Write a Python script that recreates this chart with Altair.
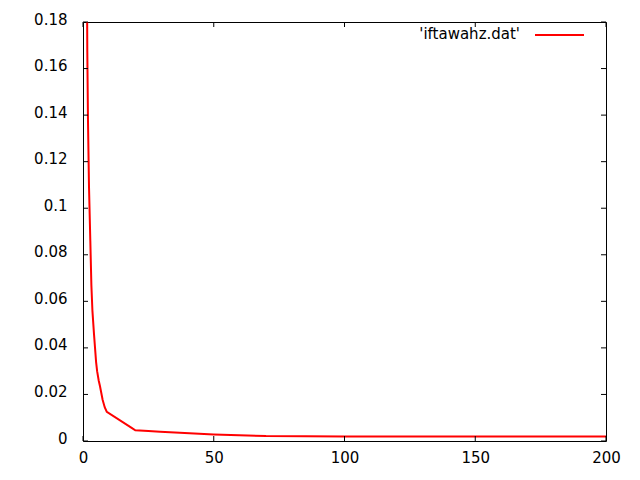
import altair as alt
import pandas as pd

# curve
x_vals = [1.5, 1.65, 1.9, 2.3, 2.8, 3.2, 3.6, 4.2, 4.6, 5.0, 5.4, 6.0, 6.5, 7.5,
          8.3, 9.1, 18.6, 20, 25, 29.5, 37, 50, 70, 100, 150, 200]
y_vals = [0.20, 0.167, 0.138, 0.109, 0.086, 0.067, 0.056, 0.046, 0.040, 0.034,
          0.030, 0.026, 0.0235, 0.0177, 0.0145, 0.0125, 0.0056, 0.0046, 0.0043,
          0.0040, 0.0035, 0.0028, 0.0021, 0.0019, 0.0019, 0.0019]

x_ticks = [0, 50, 100, 150, 200]
y_ticks = [0, 0.02, 0.04, 0.06, 0.08, 0.1, 0.12, 0.14, 0.16, 0.18]
legend_label = "'iftawahz.dat'"

W, H = 523, 419
TICK = 5

df = pd.DataFrame({"x": x_vals, "y": y_vals})
xs = alt.Scale(domain=[0, 200], nice=False, zero=False)
ys = alt.Scale(domain=[0, 0.18], nice=False)

line = alt.Chart(df).mark_line(color="#ff0000", strokeWidth=2, clip=True).encode(
    x=alt.X("x:Q", scale=xs,
            axis=alt.Axis(values=x_ticks, title=None, labelPadding=9, format="d",
                          labelFlush=False, labelOverlap=False)),
    y=alt.Y("y:Q", scale=ys,
            axis=alt.Axis(values=y_ticks, title=None, labelPadding=16,
                          labelBaseline="middle", labelOffset=-3,
                          labelFlush=False, labelOverlap=False,
                          labelExpr="datum.value == 0 ? '0' : format(datum.value, '~g')")),
)

ydf = pd.DataFrame({"v": y_ticks})
xdf = pd.DataFrame({"v": x_ticks})

ytick_l = alt.Chart(ydf).mark_rule(color="black", strokeWidth=1).encode(
    y=alt.Y("v:Q", scale=ys), x=alt.value(0), x2=alt.value(TICK))
ytick_r = alt.Chart(ydf).mark_rule(color="black", strokeWidth=1).encode(
    y=alt.Y("v:Q", scale=ys), x=alt.value(W - TICK), x2=alt.value(W))
xtick_b = alt.Chart(xdf).mark_rule(color="black", strokeWidth=1).encode(
    x=alt.X("v:Q", scale=xs), y=alt.value(H - TICK), y2=alt.value(H))
xtick_t = alt.Chart(xdf).mark_rule(color="black", strokeWidth=1).encode(
    x=alt.X("v:Q", scale=xs), y=alt.value(0), y2=alt.value(TICK))

leg_df = pd.DataFrame({"label": [legend_label]})
leg_text = alt.Chart(leg_df).mark_text(
    align="right", baseline="middle", font="DejaVu Sans", fontSize=15, color="black"
).encode(text="label:N", x=alt.value(437), y=alt.value(12))
leg_line = alt.Chart(leg_df).mark_rule(color="#ff0000", strokeWidth=2).encode(
    x=alt.value(452), x2=alt.value(501), y=alt.value(13))

chart = alt.layer(line, ytick_l, ytick_r, xtick_b, xtick_t, leg_text, leg_line).properties(
    width=W, height=H,
    autosize=alt.AutoSizeParams(type="none"),
    padding={"left": 75, "top": 14, "right": 20, "bottom": 30},
).configure_view(
    stroke="black", strokeWidth=1
).configure_axis(
    grid=False, domain=False, ticks=False,
    labelFont="DejaVu Sans", labelFontSize=15, labelColor="black",
)

chart.save("out.html", embed_options={"renderer": "svg", "actions": False})
